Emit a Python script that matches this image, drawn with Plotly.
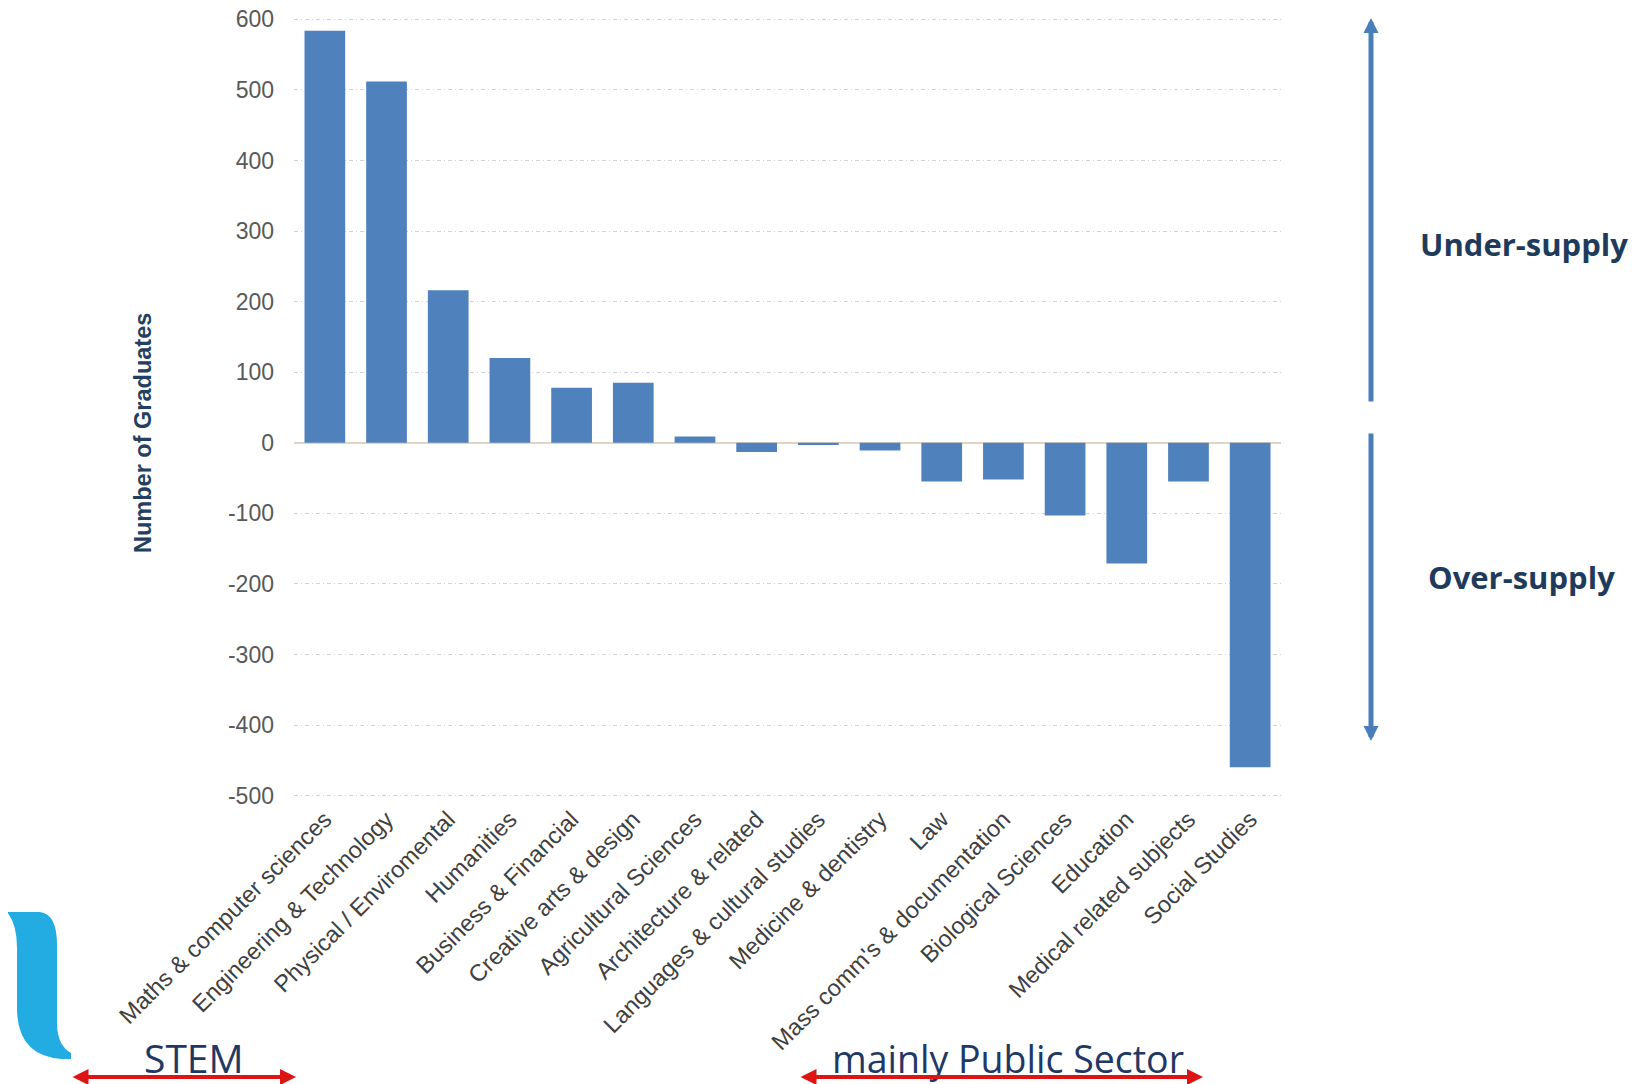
import plotly.graph_objects as go

# ---- data ----
categories = [
    "Maths & computer sciences", "Engineering & Technology", "Physical / Enviromental",
    "Humanities", "Business & Financial", "Creative arts & design",
    "Agricultural Sciences", "Architecture & related", "Languages & cultural studies",
    "Medicine & dentistry", "Law", "Mass comm's & documentation",
    "Biological Sciences", "Education", "Medical related subjects", "Social Studies",
]
values = [584, 512, 216, 120, 78, 85, 9, -13, -3, -11, -55, -52, -103, -171, -55, -460]
y_ticks = [600, 500, 400, 300, 200, 100, 0, -100, -200, -300, -400, -500]

# ---- geometry: page pixels (page has an 8px body margin) ----
OFF = 8
W, H = 1639 - OFF, 1084 - OFF          # figure size
L, R, T, B = 294, 1281, 18, 797         # plot area in page pixels
PW, PH = R - L, B - T


def xp(px):
    return (px - L) / PW


def yp(py):
    return (B - py) / PH


fig = go.Figure()
fig.add_trace(go.Bar(
    x=categories, y=values,
    marker=dict(color="#4F81BD", line=dict(width=0)),
    hoverinfo="x+y",
))

annotations = []
# y axis title
annotations.append(dict(
    x=xp(143), y=yp(433), xref="paper", yref="paper",
    text="<b>Number of Graduates</b>", showarrow=False, textangle=-90,
    font=dict(family="Liberation Sans, Arial", size=23.5, color="#243F60"),
    xanchor="center", yanchor="middle",
))
# right side labels
annotations.append(dict(
    x=xp(1524), y=yp(244), xref="paper", yref="paper",
    text="<b>Under-supply</b>", showarrow=False,
    font=dict(family="Open Sans", size=31, color="#1F3B5C"),
    xanchor="center", yanchor="middle",
))
annotations.append(dict(
    x=xp(1521), y=yp(577), xref="paper", yref="paper",
    text="<b>Over-supply</b>", showarrow=False,
    font=dict(family="Open Sans", size=31, color="#1F3B5C"),
    xanchor="center", yanchor="middle",
))
# blue vertical arrows
annotations.append(dict(
    x=xp(1371), y=yp(18), xref="paper", yref="paper",
    ax=0, ay=403 - 18, axref="pixel", ayref="pixel",
    text="", showarrow=True, arrowhead=2, arrowsize=0.6, arrowwidth=5,
    arrowcolor="#4A7EBB",
))
annotations.append(dict(
    x=xp(1371), y=yp(741), xref="paper", yref="paper",
    ax=0, ay=432 - 741, axref="pixel", ayref="pixel",
    text="", showarrow=True, arrowhead=2, arrowsize=0.6, arrowwidth=5,
    arrowcolor="#4A7EBB",
))
# bottom group labels
annotations.append(dict(
    x=xp(194), y=yp(1057), xref="paper", yref="paper",
    text="STEM", showarrow=False,
    font=dict(family="Open Sans", size=39, color="#1F3864"),
    xanchor="center", yanchor="middle",
))
annotations.append(dict(
    x=xp(1008), y=yp(1058), xref="paper", yref="paper",
    text="mainly Public Sector", showarrow=False,
    font=dict(family="Open Sans", size=37.5, color="#1F3864"),
    xanchor="center", yanchor="middle",
))
# red double arrows
annotations.append(dict(
    x=xp(296), y=yp(1077), xref="paper", yref="paper",
    ax=71 - 296, ay=0, axref="pixel", ayref="pixel",
    text="", showarrow=True, arrowhead=2, startarrowhead=2, arrowside="end+start",
    arrowsize=0.8, startarrowsize=0.8, arrowwidth=4, arrowcolor="#DC1414",
))
annotations.append(dict(
    x=xp(1203), y=yp(1077), xref="paper", yref="paper",
    ax=799 - 1203, ay=0, axref="pixel", ayref="pixel",
    text="", showarrow=True, arrowhead=2, startarrowhead=2, arrowside="end+start",
    arrowsize=0.8, startarrowsize=0.8, arrowwidth=4, arrowcolor="#DC1414",
))

# blue logo shape bottom-left (page pixel outline)
pts = [
    ("M", [(7, 912)]),
    ("L", [(40, 912)]),
    ("Q", [(57, 914), (57, 945)]),
    ("L", [(57, 1025)]),
    ("Q", [(58, 1046), (71, 1053)]),
    ("L", [(71, 1059)]),
    ("L", [(62, 1059)]),
    ("Q", [(17, 1056), (17, 1008)]),
    ("L", [(17, 948)]),
    ("Q", [(17, 924), (7, 912)]),
]
path = ""
for cmd, ps in pts:
    path += cmd + " " + " ".join(f"{xp(a):.5f},{yp(b):.5f}" for a, b in ps) + " "
path += "Z"

shapes = [dict(type="path", path=path, xref="paper", yref="paper",
               fillcolor="#22ACE2", line=dict(width=0), layer="above")]

fig.update_layout(
    width=W, height=H,
    margin=dict(l=L - OFF, r=W - (R - OFF), t=T - OFF, b=H - (B - OFF), autoexpand=False),
    paper_bgcolor="white", plot_bgcolor="white",
    bargap=0.34,
    showlegend=False,
    annotations=annotations,
    shapes=shapes,
    font=dict(family="Liberation Sans, Arial", color="#404040"),
)
fig.update_xaxes(
    tickangle=-45,
    tickfont=dict(family="Liberation Sans, Arial", size=23.5, color="#404040"),
    showgrid=False, showline=False, ticks="", automargin=False,
    ticklabelstandoff=3,
)
fig.update_yaxes(
    range=[-502, 602],
    tickvals=y_ticks,
    ticktext=[str(v) for v in y_ticks],
    tickfont=dict(family="Liberation Sans, Arial", size=23, color="#595959"),
    showgrid=True, gridcolor="#D3D3D3", gridwidth=1, griddash="4px,3px,1px,3px",
    zeroline=True, zerolinecolor="#E2D3C5", zerolinewidth=1.5,
    showline=False, ticks="", ticklabelstandoff=19, automargin=False,
    ticklabeloverflow="allow",
)

fig.write_html("out.html")
